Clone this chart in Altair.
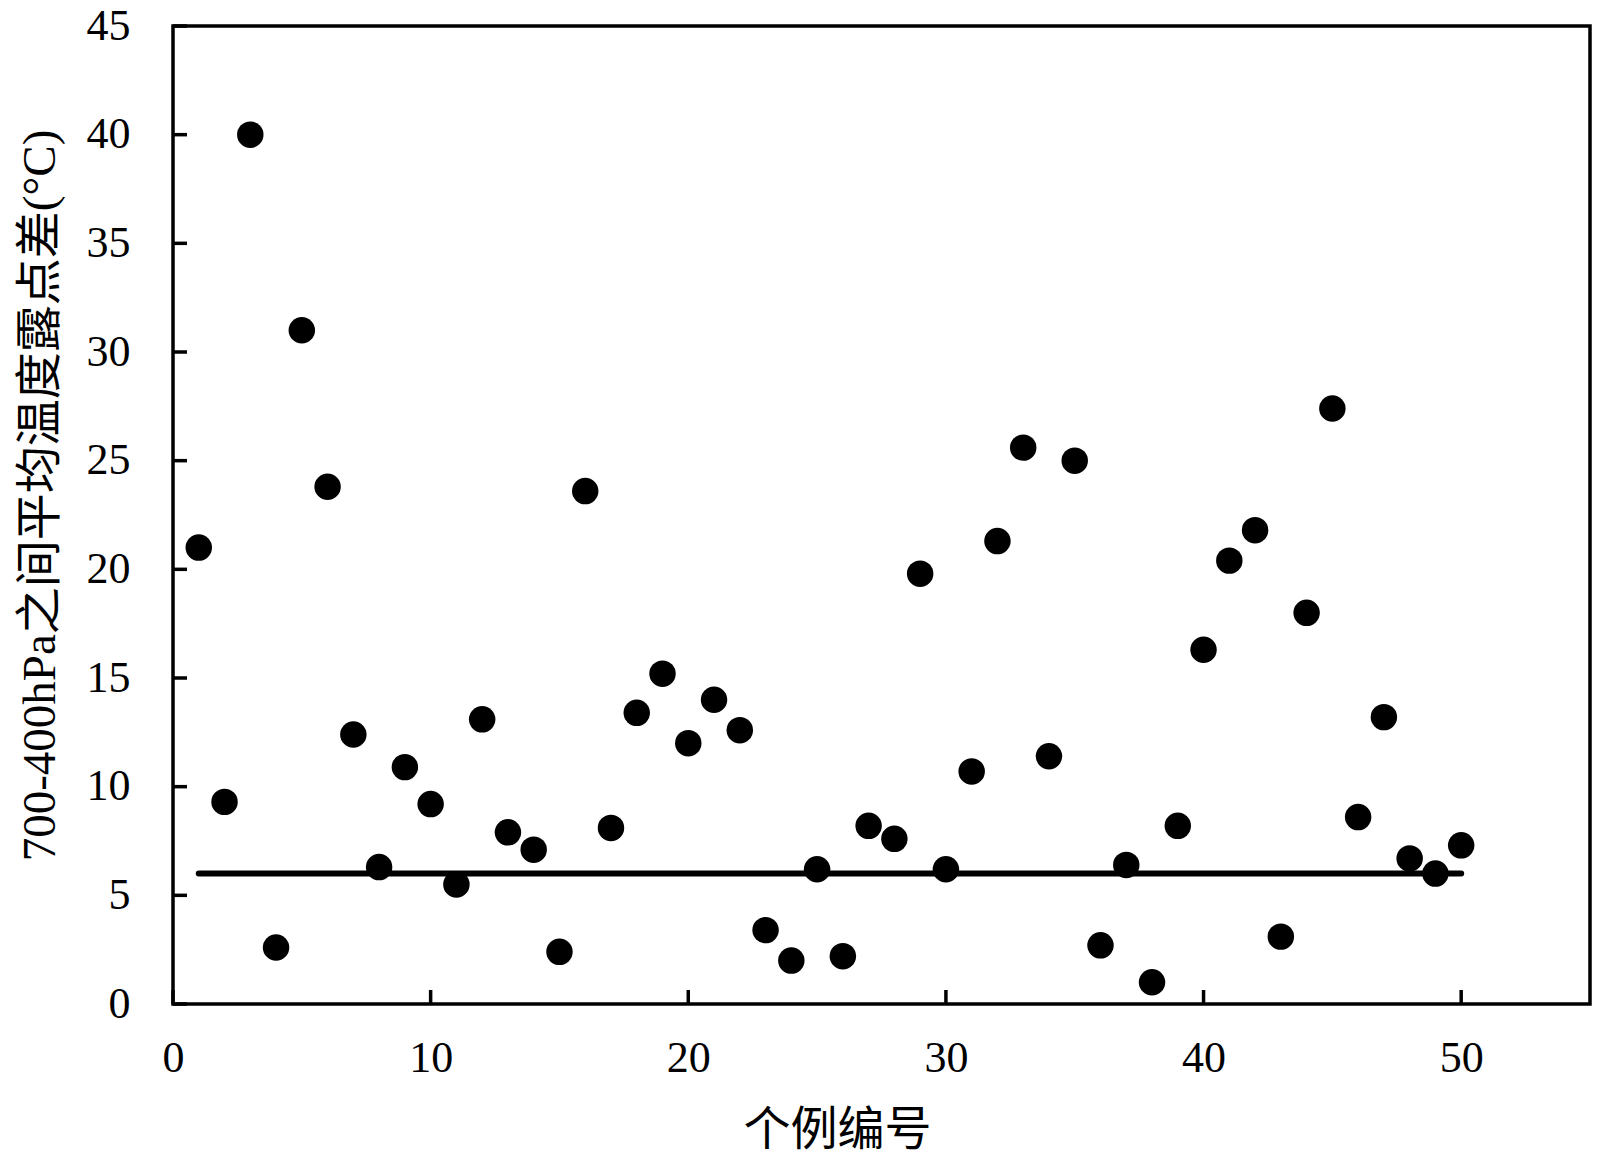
import altair as alt
import pandas as pd

case_ids = list(range(1, 51))
values = [21.0, 9.3, 40.0, 2.6, 31.0, 23.8, 12.4, 6.3, 10.9, 9.2,
          5.5, 13.1, 7.9, 7.1, 2.4, 23.6, 8.1, 13.4, 15.2, 12.0,
          14.0, 12.6, 3.4, 2.0, 6.2, 2.2, 8.2, 7.6, 19.8, 6.2,
          10.7, 21.3, 25.6, 11.4, 25.0, 2.7, 6.4, 1.0, 8.2, 16.3,
          20.4, 21.8, 3.1, 18.0, 27.4, 8.6, 13.2, 6.7, 6.0, 7.3]
threshold_x = [1, 50]
threshold_y = [6, 6]
x_ticks = [0, 10, 20, 30, 40, 50]
y_ticks = [0, 5, 10, 15, 20, 25, 30, 35, 40, 45]

x_title = "个例编号"
y_title = "700-400hPa之间平均温度露点差(°C)"

FONT = "Liberation Serif, Noto Sans CJK SC"

pts = pd.DataFrame({"case": case_ids, "value": values})
line_df = pd.DataFrame({"case": threshold_x, "value": threshold_y})
xt = pd.DataFrame({"case": x_ticks, "value": [0] * len(x_ticks)})
yt = pd.DataFrame({"case": [0] * len(y_ticks), "value": y_ticks})

xscale = alt.Scale(domain=[0, 55], nice=False, zero=False)
yscale = alt.Scale(domain=[0, 45], nice=False, zero=False)

x_enc = alt.X("case:Q", scale=xscale,
              axis=alt.Axis(title=x_title, values=x_ticks, ticks=False, domain=False,
                            grid=False, labelFont=FONT, labelFontSize=44,
                            labelColor="black", labelPadding=32, labelFlush=False,
                            titleFont=FONT, titleFontSize=47, titleFontWeight="normal",
                            titleColor="black", titleX=664, titleY=103,
                            titleBaseline="top"))
y_enc = alt.Y("value:Q", scale=yscale,
              axis=alt.Axis(title=y_title, values=y_ticks, ticks=False, domain=False,
                            grid=False, labelFont=FONT, labelFontSize=44,
                            labelColor="black", labelPadding=43, labelFlush=False,
                            titleFont=FONT, titleFontSize=47, titleFontWeight="normal",
                            titleColor="black", titleX=-133, titleY=469,
                            titleBaseline="middle"))

points = alt.Chart(pts).mark_circle(size=700, color="black", opacity=1).encode(
    x=x_enc, y=y_enc)

line = alt.Chart(line_df).mark_line(color="black", strokeWidth=6, strokeCap="round").encode(
    x="case:Q", y="value:Q")

xticks_layer = alt.Chart(xt).mark_tick(orient="vertical", size=14, thickness=3.5,
                                       yOffset=-7, color="black", opacity=1).encode(
    x="case:Q", y="value:Q")
yticks_layer = alt.Chart(yt).mark_tick(orient="horizontal", size=14, thickness=3.5,
                                       xOffset=7, color="black", opacity=1).encode(
    x="case:Q", y="value:Q")

chart = alt.layer(line, points, xticks_layer, yticks_layer).properties(
    width=1417, height=978,
    background="white",
    autosize=alt.AutoSizeParams(type="none"),
    padding={"left": 165, "top": 18, "right": 2, "bottom": 150},
).configure_view(stroke="black", strokeWidth=3.5)

chart.save("out.html", embed_options={"renderer": "svg", "actions": False})
